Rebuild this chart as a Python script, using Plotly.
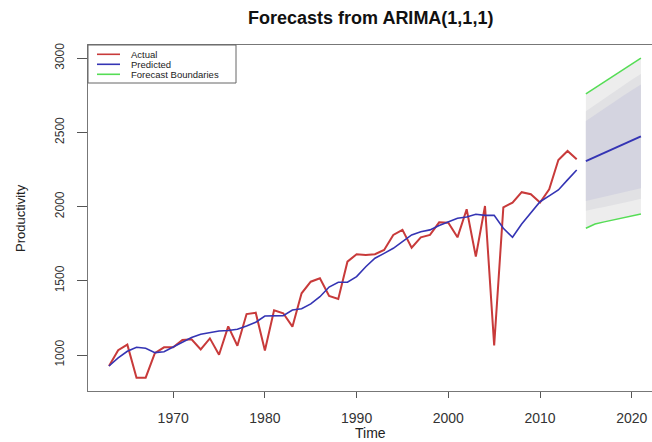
import plotly.graph_objects as go

# ---------------- data ----------------
years = list(range(1963, 2015))
actual = [926, 1032, 1070, 847, 847, 1013, 1052, 1052, 1101, 1106,
          1038, 1112, 1002, 1193, 1062, 1276, 1285, 1030, 1301, 1281,
          1191, 1416, 1494, 1517, 1398, 1377, 1629, 1679, 1674, 1679,
          1708, 1809, 1843, 1723, 1793, 1809, 1894, 1892, 1793, 1982,
          1663, 2004, 1065, 1995, 2027, 2097, 2083, 2027, 2117, 2314,
          2375, 2319]
predicted = [926, 980, 1025, 1052, 1045, 1016, 1022, 1054, 1090, 1118,
             1140, 1152, 1162, 1165, 1173, 1195, 1221, 1263, 1264, 1265,
             1303, 1312, 1344, 1393, 1458, 1490, 1490, 1528, 1595, 1652,
             1685, 1719, 1764, 1809, 1831, 1843, 1872, 1895, 1921, 1930,
             1948, 1941, 1941, 1854, 1793, 1883, 1955, 2033, 2072, 2112,
             2180, 2247]

f_years = list(range(2015, 2022))
f_mean = [2307, 2335, 2362, 2390, 2418, 2446, 2473]
f_hi_inner = [2577, 2620, 2662, 2703, 2744, 2784, 2823]
f_lo_inner = [2037, 2050, 2062, 2077, 2092, 2108, 2123]
f_hi_mid = [2642, 2685, 2727, 2770, 2813, 2854, 2893]
f_lo_mid = [1972, 1985, 1997, 2010, 2023, 2038, 2053]
f_hi_outer = [2759, 2799, 2839, 2880, 2920, 2960, 3000]
f_lo_outer = [1854, 1883, 1897, 1910, 1923, 1937, 1950]

x_ticks = [1970, 1980, 1990, 2000, 2010, 2020]
y_ticks = [1000, 1500, 2000, 2500, 3000]

title_text = "Forecasts from ARIMA(1,1,1)"
x_title = "Time"
y_title = "Productivity"
legend_labels = ["Actual", "Predicted", "Forecast Boundaries"]

# ---------------- styling ----------------
RED = "#C83A3A"
BLUE = "#3434B4"
GREEN = "#55DD55"
FONT = "Liberation Sans, Arial, sans-serif"

W, H = 652, 442
ML, MR, MT, MB = 88, 0, 45, 51
PW, PH = W - ML - MR, H - MT - MB


def px(xp):
    return (xp - ML) / PW


def py(yp):
    return (H - MB - yp) / PH


fig = go.Figure()


def band(hi, lo, color):
    fig.add_trace(go.Scatter(
        x=f_years + f_years[::-1], y=hi + lo[::-1],
        fill="toself", fillcolor=color, mode="lines",
        line=dict(width=0, color=color), hoverinfo="skip", showlegend=False))


band(f_hi_outer, f_lo_outer, "#EDEDED")
band(f_hi_mid, f_lo_mid, "#E1E1E4")
band(f_hi_inner, f_lo_inner, "#D4D4E0")

fig.add_trace(go.Scatter(x=years, y=actual, mode="lines",
                         line=dict(color=RED, width=2), name=legend_labels[0]))
fig.add_trace(go.Scatter(x=years, y=predicted, mode="lines",
                         line=dict(color=BLUE, width=1.6), name=legend_labels[1]))
fig.add_trace(go.Scatter(x=f_years, y=f_mean, mode="lines",
                         line=dict(color=BLUE, width=2), showlegend=False))
fig.add_trace(go.Scatter(x=f_years, y=f_hi_outer, mode="lines",
                         line=dict(color=GREEN, width=1.5), name=legend_labels[2]))
fig.add_trace(go.Scatter(x=f_years, y=f_lo_outer, mode="lines",
                         line=dict(color=GREEN, width=1.5), showlegend=False))

# manual legend (R style box)
shapes = [dict(type="rect", xref="paper", yref="paper",
               x0=px(88), x1=px(236), y0=py(83), y1=py(45),
               line=dict(color="#666666", width=1), fillcolor="white", layer="above")]
annotations = []
for i, (lab, col) in enumerate(zip(legend_labels, [RED, BLUE, GREEN])):
    yy = 54.3 + i * 10
    shapes.append(dict(type="line", xref="paper", yref="paper",
                       x0=px(97), x1=px(120), y0=py(yy), y1=py(yy),
                       line=dict(color=col, width=1.6), layer="above"))
    annotations.append(dict(text=lab, xref="paper", yref="paper",
                            x=px(129), y=py(yy), xanchor="left", yanchor="middle",
                            showarrow=False, font=dict(family=FONT, size=9.5, color="#222222")))

annotations += [
    dict(text="<b>" + title_text + "</b>", xref="paper", yref="paper",
         x=px(370), y=py(18), xanchor="center", yanchor="middle", showarrow=False,
         font=dict(family=FONT, size=18, color="#111111")),
    dict(text=x_title, xref="paper", yref="paper",
         x=px(370), y=py(433), xanchor="center", yanchor="middle", showarrow=False,
         font=dict(family=FONT, size=14, color="#222222")),
    dict(text=y_title, xref="paper", yref="paper",
         x=px(20), y=py(218), xanchor="center", yanchor="middle", showarrow=False,
         textangle=-90, font=dict(family=FONT, size=13, color="#222222")),
]

fig.update_layout(
    width=W, height=H,
    margin=dict(l=ML, r=MR, t=MT, b=MB, pad=0, autoexpand=False),
    paper_bgcolor="white", plot_bgcolor="white",
    showlegend=False,
    shapes=shapes, annotations=annotations,
    font=dict(family=FONT, color="#333333"),
)
fig.update_xaxes(range=[1960.71, 2022.21], tickvals=x_ticks, automargin=False,
                 ticks="outside", ticklen=6, tickcolor="#555555",
                 showgrid=False, zeroline=False,
                 showline=True, linecolor="#777777", linewidth=1, mirror=True,
                 tickfont=dict(family=FONT, size=14, color="#333333"),
                 ticklabelstandoff=8)
fig.update_yaxes(range=[757.4, 3089], tickvals=y_ticks, automargin=False,
                 ticks="outside", ticklen=10, tickcolor="#555555",
                 showgrid=False, zeroline=False,
                 showline=True, linecolor="#777777", linewidth=1,
                 tickangle=-90,
                 tickfont=dict(family=FONT, size=12, color="#333333"),
                 ticklabelstandoff=8)

fig.write_html(
    "out.html",
    config={"displayModeBar": False},
    post_script="document.body.style.margin='0px';document.body.style.padding='0px';document.body.style.overflow='hidden';",
)
